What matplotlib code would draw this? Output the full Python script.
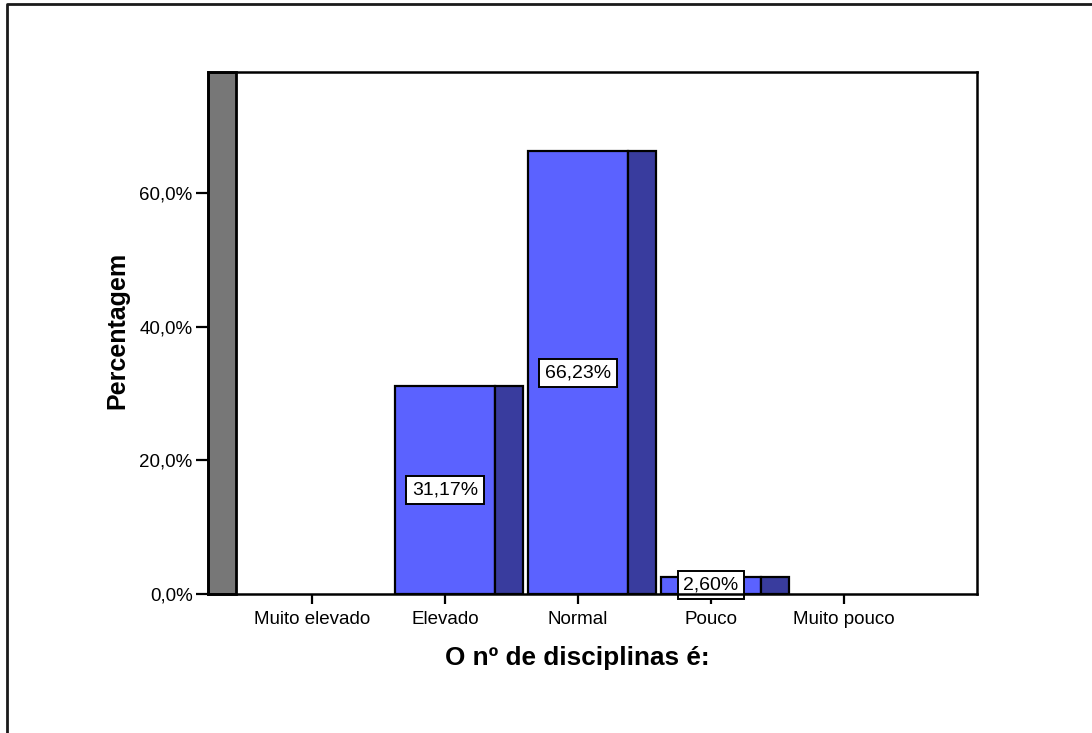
import matplotlib
matplotlib.use("Agg")
import matplotlib.pyplot as plt
from matplotlib.lines import Line2D
from matplotlib.patches import Rectangle

# Response categories and share of answers (%)
categories = ["Muito elevado", "Elevado", "Normal", "Pouco", "Muito pouco"]
percentages = [0.0, 31.17, 66.23, 2.60, 0.0]
y_ticks = [0, 20, 40, 60]
y_tick_labels = ["0,0%", "20,0%", "40,0%", "60,0%"]

FRONT = "#5B62FF"
SIDE = "#393C9E"
WALL = "#777777"

plt.rcParams["font.family"] = ["Liberation Sans", "DejaVu Sans"]

W, H = 1092, 733
fig = plt.figure(figsize=(W / 100, H / 100), dpi=100)
ax = fig.add_axes([208 / W, 1 - 594 / H, (977 - 208) / W, (594 - 72) / H])

x_left, x_right = -0.782, 5.0
front_w = 0.752
depth = 0.21
ax.set_xlim(x_left, x_right)
ax.set_ylim(0, 78.1)

# back wall on the left side
ax.add_patch(Rectangle((x_left, 0), depth, 78.1, facecolor=WALL,
                       edgecolor="black", linewidth=2, zorder=2, clip_on=False))

xs = list(range(len(categories)))
for x, v in zip(xs, percentages):
    if v <= 0:
        continue
    ax.bar(x, v, width=front_w, color=FRONT, edgecolor="black",
           linewidth=1.6, zorder=3)
    ax.bar(x + front_w / 2 + depth / 2, v, width=depth, color=SIDE,
           edgecolor="black", linewidth=1.6, zorder=3)
    label = f"{v:.2f}%".replace(".", ",")
    ax.text(x, v / 2, label, ha="center", va="center", fontsize=14,
            zorder=5,
            bbox=dict(boxstyle="square,pad=0.28", facecolor="white",
                      edgecolor="black", linewidth=1.4))

ax.set_xticks(xs)
ax.set_xticklabels(categories, fontsize=13.5)
ax.set_yticks(y_ticks)
ax.set_yticklabels(y_tick_labels, fontsize=13.5)
ax.tick_params(axis="x", length=7, width=1.6, pad=5)
ax.tick_params(axis="y", length=9, width=1.6, pad=2)

for s in ["top", "right", "bottom", "left"]:
    ax.spines[s].set_linewidth(1.8)
    ax.spines[s].set_zorder(6)

ax.set_xlabel("O nº de disciplinas é:", fontsize=18.8, fontweight="bold")
ax.xaxis.set_label_coords((577.5 - 208) / 769, -(646 - 594) / 522)
ax.set_ylabel("Percentagem", fontsize=18, fontweight="bold")
ax.yaxis.set_label_coords(-(208 - 129) / 769, (594 - 330) / 522)

# outer frame (top and left edges)
fig.add_artist(Line2D([7 / W, 7 / W, 1.0], [0.0, 1 - 4 / H, 1 - 4 / H],
                      transform=fig.transFigure, color="#1a1a1a",
                      linewidth=2.0))

fig.savefig("out.png", dpi=100)
